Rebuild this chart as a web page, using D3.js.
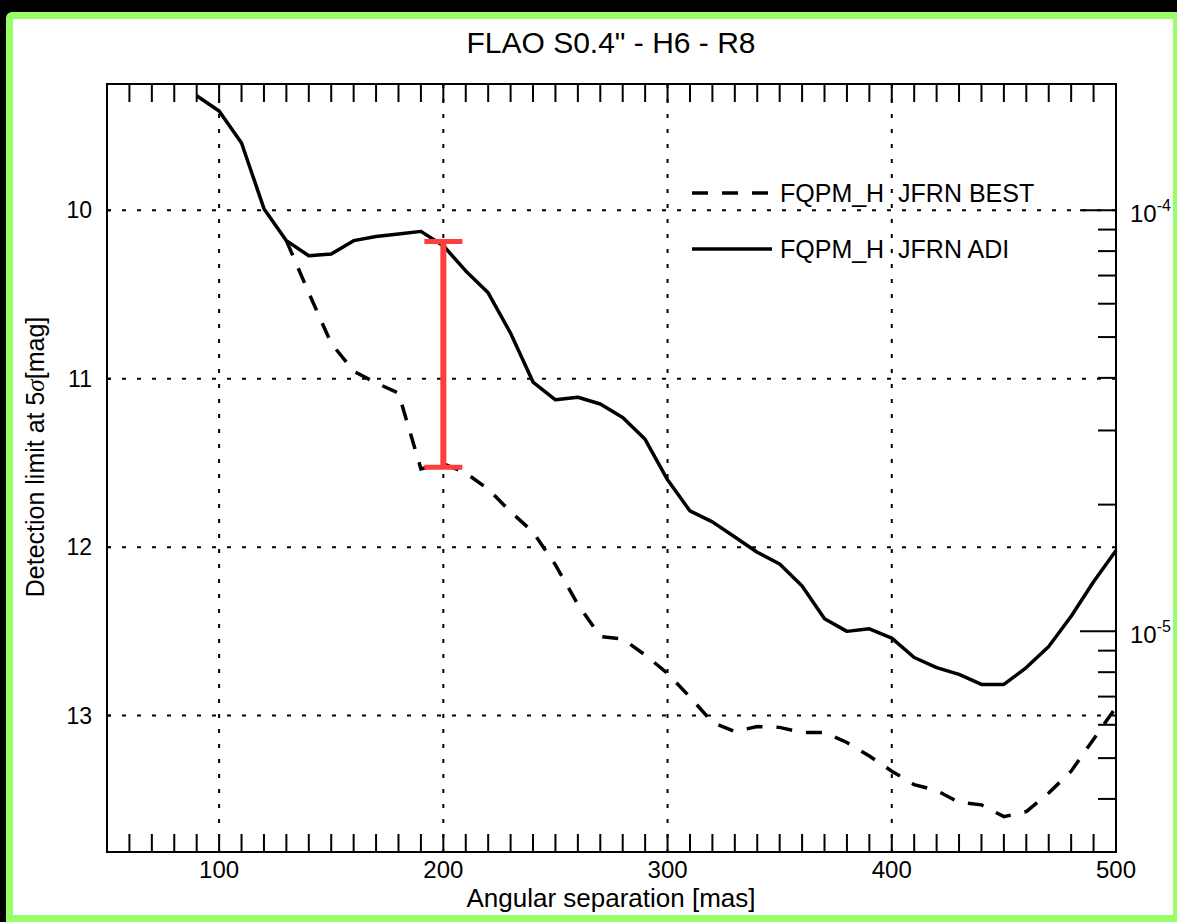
<!DOCTYPE html>
<html>
<head>
<meta charset="utf-8">
<script src="https://cdn.jsdelivr.net/npm/d3@7"></script>
<style>
  html, body { margin: 0; padding: 0; background: #000; }
  svg { display: block; }
  text { font-family: "Liberation Sans", Arial, Helvetica, sans-serif; fill: #000; }
</style>
</head>
<body>
<script>
// ---- data ----
const title = "FLAO S0.4\" - H6 - R8";
const xLabel = "Angular separation [mas]";
const seriesNames = ["FQPM_H  JFRN BEST", "FQPM_H  JFRN ADI"];

const adiSep = [90,100,110,120,130,140,150,160,170,180,190,200,210,220,230,240,250,260,270,280,290,300,310,320,330,340,350,360,370,380,390,400,410,420,430,440,450,460,470,480,490,500];
const adiMag = [9.32,9.41,9.60,9.99,10.18,10.27,10.26,10.18,10.155,10.14,10.125,10.21,10.36,10.49,10.73,11.02,11.125,11.11,11.15,11.23,11.36,11.60,11.785,11.85,11.94,12.03,12.10,12.23,12.425,12.50,12.485,12.54,12.655,12.715,12.755,12.815,12.815,12.715,12.59,12.41,12.205,12.02];

const bestSep = [130,140,150,160,170,180,190,200,210,220,230,240,250,260,270,280,290,300,310,320,330,340,350,360,370,380,390,400,410,420,430,440,450,460,470,480,490,500];
const bestMag = [10.18,10.49,10.79,10.955,11.025,11.085,11.535,11.505,11.56,11.655,11.79,11.91,12.105,12.34,12.53,12.545,12.64,12.75,12.89,13.04,13.095,13.065,13.07,13.10,13.10,13.16,13.24,13.33,13.41,13.445,13.515,13.53,13.60,13.57,13.46,13.33,13.14,12.95];

const gainSep = [200];
const gainTop = [10.185];
const gainBottom = [11.525];

const xGridTicks = [100,200,300,400];
const xTickLabels = [100,200,300,400,500];
const xMinorTicks = d3.range(60, 500, 10);
const yTickLabels = [10,11,12,13];
const contrastMajor = [1e-4, 1e-5];
const contrastMinor = [9e-5,8e-5,7e-5,6e-5,5e-5,4e-5,3e-5,2e-5,9e-6,8e-6,7e-6,6e-6,5e-6,4e-6];

// ---- layout ----
const W = 1177, H = 922;
const L = 107, R = 1116, T = 84, B = 852;

const svg = d3.select("body").append("svg").attr("width", W).attr("height", H);

// frame
svg.append("rect").attr("x", 0).attr("y", 0).attr("width", W).attr("height", H).attr("fill", "#000");
svg.append("rect").attr("x", 6).attr("y", 12).attr("width", W).attr("height", H).attr("rx", 6).attr("fill", "#99ff66");
svg.append("rect").attr("x", 13).attr("y", 19).attr("width", 1160).attr("height", 896).attr("fill", "#fff");

const x = d3.scaleLinear().domain([50, 500]).range([L, R]);
const y = d3.scaleLinear().domain([9.25, 13.81]).range([T, B]);
const yc = d3.scaleLog().domain([Math.pow(10, -9.25 / 2.5), Math.pow(10, -13.81 / 2.5)]).range([T, B]);

// grid
const grid = svg.append("g").attr("stroke", "#000").attr("stroke-width", 2).attr("stroke-dasharray", "4,11");
grid.selectAll(".gx").data(xGridTicks).join("line")
  .attr("x1", d => x(d)).attr("x2", d => x(d)).attr("y1", T).attr("y2", B);
grid.selectAll(".gy").data(yTickLabels).join("line")
  .attr("x1", L).attr("x2", R).attr("y1", d => y(d)).attr("y2", d => y(d));

// top / bottom ticks
const tk = svg.append("g").attr("stroke", "#000").attr("stroke-width", 2);
tk.selectAll(".tt").data(xMinorTicks).join("line")
  .attr("x1", d => x(d)).attr("x2", d => x(d)).attr("y1", T).attr("y2", T + 18);
tk.selectAll(".tb").data(xMinorTicks).join("line")
  .attr("x1", d => x(d)).attr("x2", d => x(d)).attr("y1", B).attr("y2", B - 18);
// left ticks
tk.selectAll(".tl").data(yTickLabels).join("line")
  .attr("x1", L).attr("x2", L + 4).attr("y1", d => y(d)).attr("y2", d => y(d));
// right ticks (contrast)
tk.selectAll(".trm").data(contrastMajor).join("line")
  .attr("x1", R - 36).attr("x2", R).attr("y1", d => yc(d)).attr("y2", d => yc(d));
tk.selectAll(".trn").data(contrastMinor).join("line")
  .attr("x1", R - 18).attr("x2", R).attr("y1", d => yc(d)).attr("y2", d => yc(d));

// curves
const line = d3.line().x(d => x(d[0])).y(d => y(d[1]));
const adi = adiSep.map((s, i) => [s, adiMag[i]]);
const best = bestSep.map((s, i) => [s, bestMag[i]]);

svg.append("path").attr("d", line(best)).attr("fill", "none").attr("stroke", "#000")
  .attr("stroke-width", 3.5).attr("stroke-dasharray", "16,14");
svg.append("path").attr("d", line(adi)).attr("fill", "none").attr("stroke", "#000")
  .attr("stroke-width", 3.5).attr("stroke-linejoin", "round");

// red gain bar
const red = "#ff3d3d";
const eb = svg.append("g").attr("stroke", red);
eb.selectAll(".v").data(gainSep).join("line")
  .attr("x1", d => x(d)).attr("x2", d => x(d))
  .attr("y1", (d, i) => y(gainTop[i])).attr("y2", (d, i) => y(gainBottom[i]))
  .attr("stroke-width", 6);
eb.selectAll(".ct").data(gainSep).join("line")
  .attr("x1", d => x(d) - 19).attr("x2", d => x(d) + 19)
  .attr("y1", (d, i) => y(gainTop[i])).attr("y2", (d, i) => y(gainTop[i]))
  .attr("stroke-width", 5);
eb.selectAll(".cb").data(gainSep).join("line")
  .attr("x1", d => x(d) - 19).attr("x2", d => x(d) + 19)
  .attr("y1", (d, i) => y(gainBottom[i])).attr("y2", (d, i) => y(gainBottom[i]))
  .attr("stroke-width", 5);

// axis box
svg.append("rect").attr("x", L).attr("y", T).attr("width", R - L).attr("height", B - T)
  .attr("fill", "none").attr("stroke", "#000").attr("stroke-width", 2);

// tick labels
svg.selectAll(".xl").data(xTickLabels).join("text")
  .attr("x", d => x(d)).attr("y", 878).attr("text-anchor", "middle")
  .attr("font-size", 24).text(d => d);
svg.selectAll(".yl").data(yTickLabels).join("text")
  .attr("x", 92).attr("y", d => y(d) + 8).attr("text-anchor", "end")
  .attr("font-size", 23).text(d => d);
const cl = svg.selectAll(".cl").data(contrastMajor).join("text")
  .attr("x", 1130).attr("y", d => yc(d) + 12).attr("font-size", 24);
cl.append("tspan").text("10");
cl.append("tspan").attr("dy", -11).attr("font-size", 16).text(d => Math.round(Math.log10(d)));

// title and axis titles
svg.append("text").attr("x", 611).attr("y", 53).attr("text-anchor", "middle")
  .attr("font-size", 30).text(title);
svg.append("text").attr("x", 611).attr("y", 907).attr("text-anchor", "middle")
  .attr("font-size", 26).text(xLabel);
const yt = svg.append("text").attr("transform", "translate(44,457) rotate(-90)")
  .attr("text-anchor", "middle").attr("font-size", 25);
yt.append("tspan").text("Detection limit at 5");
yt.append("tspan").attr("font-family", "'Liberation Serif', serif").attr("font-style", "italic").text("σ");
yt.append("tspan").text("[mag]");

// legend
const lg = svg.append("g");
const legY = [193, 249];
const legDash = ["16,14", null];
legY.forEach((ly, i) => {
  lg.append("line").attr("x1", 692).attr("x2", 772).attr("y1", ly).attr("y2", ly)
    .attr("stroke", "#000").attr("stroke-width", 3.5)
    .attr("stroke-dasharray", legDash[i]);
  lg.append("text").attr("x", 780).attr("y", ly + 9).attr("font-size", 25)
    .style("white-space", "pre").text(seriesNames[i]);
});
</script>
</body>
</html>
